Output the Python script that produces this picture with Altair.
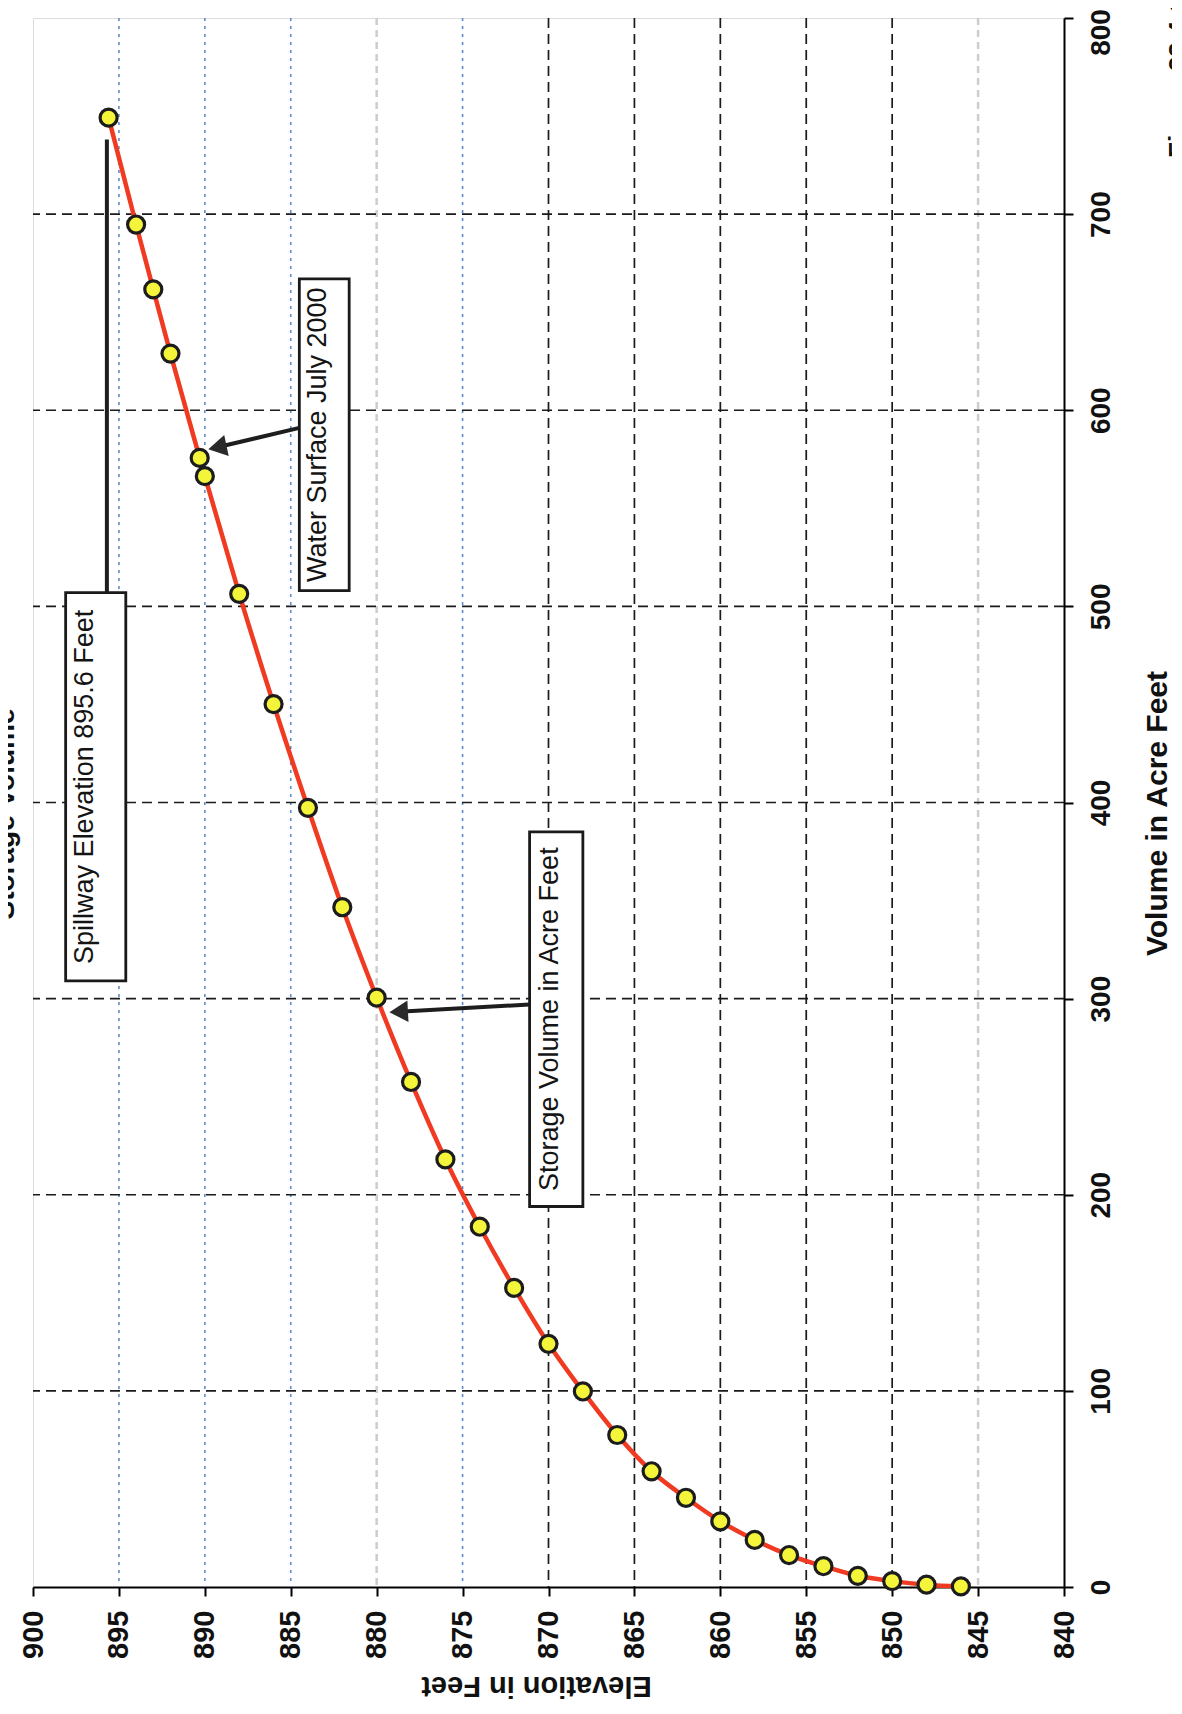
import altair as alt
import pandas as pd

# ---------------- values ----------------
elevation = [846, 848, 850, 852, 854, 856, 858, 860, 862, 864, 866, 868, 870, 872,
             874, 876, 878, 880, 882, 884, 886, 888, 890, 890.3, 892, 893, 894, 895.6]
volume = [0.3, 1.2, 3.0, 5.7, 10.6, 16.3, 24.0, 33.5, 45.5, 59.0, 77.5, 99.7, 124.0, 152.5,
          183.7, 218.0, 257.5, 300.5, 346.6, 397.3, 450.2, 506.4, 566.4, 575.7, 628.9, 661.6,
          694.7, 749.2]

elev_ticks = list(range(840, 901, 5))
vol_ticks = list(range(0, 801, 100))

grid_black = [850, 855, 860, 865, 870]
grid_blue = [875, 885, 890, 895]
grid_gray = [845, 880]
grid_vol = [100, 200, 300, 400, 500, 600, 700]

box_text = ["Spillway Elevation 895.6 Feet", "Water Surface July 2000", "Storage Volume in Acre Feet"]
box_e_left = [898.1, 884.5, 871.1]
box_e_right = [894.6, 881.6, 868.0]
box_v_bottom = [309, 508, 194]
box_v_top = [507, 667, 385]
text_e = [897.0, 883.4, 869.9]

conn_e1 = [895.7, 884.5, 871.1]
conn_v1 = [507, 591, 297]
conn_e2 = [895.7, 889.27, 878.72]
conn_v2 = [738, 581.1, 293.3]

head_e = [889.27, 878.72]
head_v = [581.1, 293.3]

FONT = "Liberation Sans"

# ---------------- scales / axes ----------------
x_axis = alt.Axis(
    values=elev_ticks, orient="bottom", format="d", grid=False,
    labelAngle=270, labelAlign="right", labelBaseline="middle",
    labelFont=FONT, labelFontWeight="bold", labelFontSize=29, labelColor="#111111",
    labelPadding=14, labelFlush=False, labelOverlap=False, labelBound=False,
    tickSize=9, tickColor="black", tickWidth=2,
    domainColor="black", domainWidth=2,
    title="Elevation in Feet", titleAngle=180, titleFont=FONT, titleFontWeight="bold",
    titleFontSize=29, titleColor="#111111", titleX=503, titleY=98,
    titleAlign="center", titleBaseline="middle",
)
y_axis = alt.Axis(
    values=vol_ticks, orient="right", format="d", grid=False,
    labelAngle=270, labelAlign="center", labelBaseline="top",
    labelFont=FONT, labelFontWeight="bold", labelFontSize=28, labelColor="#111111",
    labelPadding=14, labelFlush=False, labelOverlap=False, labelBound=False,
    labelOffset={"condition": {"test": "datum.value == 800", "value": 14}, "value": 0},
    tickSize=9, tickColor="black", tickWidth=2,
    domainColor="black", domainWidth=2,
    title="Volume in Acre Feet", titleAngle=270, titleFont=FONT, titleFontWeight="bold",
    titleFontSize=30, titleColor="#111111", titleX=78, titleY=795,
    titleAlign="center", titleBaseline="top",
)
x_scale = alt.Scale(domain=[840, 900], reverse=True, nice=False, zero=False)
y_scale = alt.Scale(domain=[0, 800], nice=False, zero=False)


def X(field):
    return alt.X(f"{field}:Q", scale=x_scale, axis=x_axis)


def Y(field):
    return alt.Y(f"{field}:Q", scale=y_scale, axis=y_axis)


curve = pd.DataFrame({"E": elevation, "V": volume})


def vgrid(values, color, dash, width):
    return alt.Chart(pd.DataFrame({"E": values})).mark_rule(
        color=color, strokeDash=dash, strokeWidth=width
    ).encode(x=X("E"))


grid_layers = [
    vgrid(grid_gray, "#cdcdcd", [7, 5], 2.5),
    vgrid(grid_blue, "#5a8ccc", [3, 5], 1.6),
    vgrid(grid_black, "#1a1a1a", [10, 6], 1.7),
    alt.Chart(pd.DataFrame({"V": grid_vol})).mark_rule(
        color="#1a1a1a", strokeDash=[10, 6], strokeWidth=1.7
    ).encode(y=Y("V")),
]

boxes_df = pd.DataFrame({
    "label": box_text, "E": box_e_left, "E2": box_e_right,
    "V": box_v_bottom, "V2": box_v_top, "TE": text_e,
})

boxes = alt.Chart(boxes_df).mark_rect(
    fill="white", stroke="#1a1a1a", strokeWidth=2.8
).encode(x=X("E"), x2="E2", y=Y("V"), y2="V2")

box_labels = alt.Chart(boxes_df).transform_calculate(
    VM="(datum.V + datum.V2) / 2"
).mark_text(
    angle=270, align="center", baseline="middle", font=FONT, fontSize=27, color="#141414"
).encode(x=X("TE"), y=Y("VM"), text="label:N")

conn_df = pd.DataFrame({"E": conn_e1, "V": conn_v1, "E2": conn_e2, "V2": conn_v2})
connectors = alt.Chart(conn_df).mark_rule(color="#1e1e1e", strokeWidth=4).encode(
    x=X("E"), x2="E2", y=Y("V"), y2="V2"
)

head_df = pd.DataFrame({"E": head_e, "V": head_v})
head1 = alt.Chart(head_df.iloc[[0]]).mark_point(
    shape="triangle-left", size=460, filled=True, color="#2a2a2a", opacity=1, angle=348
).encode(x=X("E"), y=Y("V"))
head2 = alt.Chart(head_df.iloc[[1]]).mark_point(
    shape="triangle-left", size=460, filled=True, color="#2a2a2a", opacity=1, angle=357
).encode(x=X("E"), y=Y("V"))

line = alt.Chart(curve).mark_line(
    color="#f03a22", strokeWidth=4.5, interpolate="monotone"
).encode(x=X("E"), y=Y("V"), order=alt.Order("E:Q", sort="descending"))

points = alt.Chart(curve).mark_point(
    shape="circle", filled=True, fill="#f4f43a", stroke="#1c1c1c", strokeWidth=3.2,
    size=290, opacity=1
).encode(x=X("E"), y=Y("V"))

title_text = alt.Chart(pd.DataFrame({"t": ["Storage Volume"]})).mark_text(
    angle=270, align="center", baseline="alphabetic", font=FONT, fontWeight="bold",
    fontSize=28, color="#111111"
).encode(x=alt.value(-19), y=alt.value(796), text="t:N")

fig_text = alt.Chart(pd.DataFrame({"t": ["Figure 23.4-1"]})).mark_text(
    angle=270, align="left", baseline="top", font=FONT, fontWeight="bold",
    fontSize=26, color="#111111"
).encode(x=alt.value(1133), y=alt.value(140), text="t:N")

chart = alt.layer(
    *grid_layers, connectors, boxes, box_labels, line, points, head1, head2,
    title_text, fig_text
).properties(
    width=1031, height=1569,
    autosize=alt.AutoSizeParams(type="none"),
    padding={"left": 25, "top": 10, "right": 108, "bottom": 117},
).configure_view(
    stroke="black", strokeWidth=2
).configure(background="white")

chart.save("out.html", embed_options={"renderer": "svg", "actions": False})
